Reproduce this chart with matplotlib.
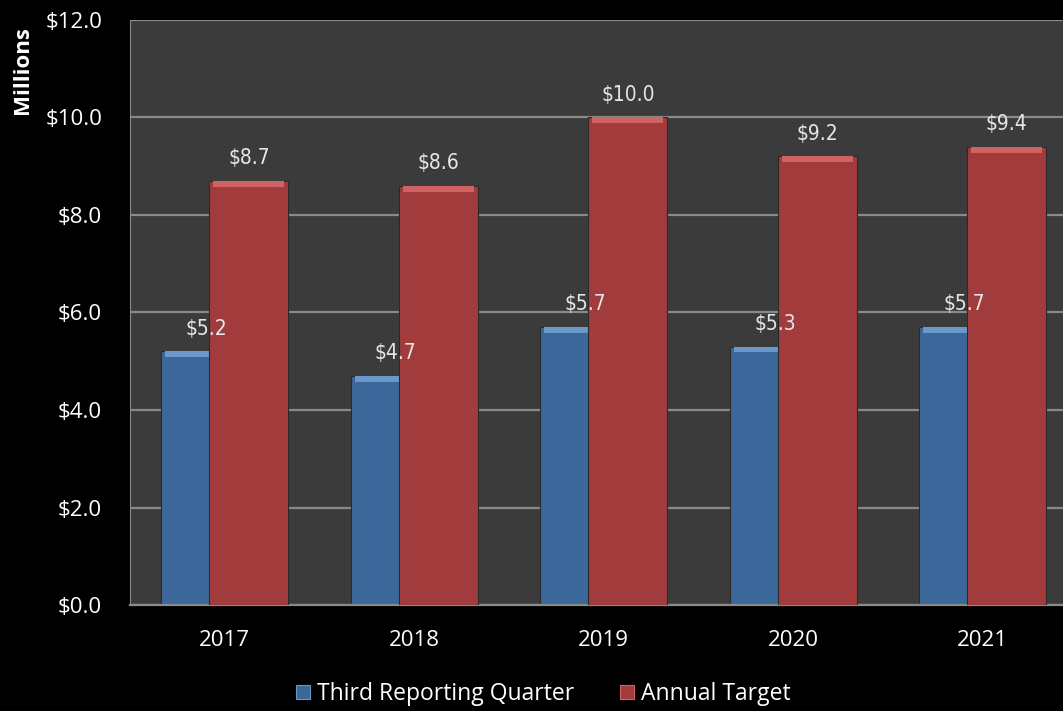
import matplotlib.pyplot as plt
import matplotlib.patches as mpatches
import numpy as np

years = ['2017', '2018', '2019', '2020', '2021']
third_quarter = [5.2, 4.7, 5.7, 5.3, 5.7]
annual_target = [8.7, 8.6, 10.0, 9.2, 9.4]
series_names = ['Third Reporting Quarter', 'Annual Target']

blue = '#3c679b'
blue_top = '#6a98cc'
red = '#a23b3b'
red_top = '#cf6262'

fig = plt.figure(figsize=(10.63, 7.11), dpi=100, facecolor='black')
ax = fig.add_axes([130 / 1063, 1 - 605 / 711, 947.5 / 1063, 585 / 711])
ax.set_facecolor('#3b3b3b')

x = np.arange(len(years))
width = 0.417
shift = 0.127

def bevel_bars(xs, vals, color, top_color, z):
    ax.bar(xs, vals, width, color=color, edgecolor='#2a2a2a', linewidth=0.8, zorder=z)
    # lighter strip along the top of each bar
    ax.bar(xs, [0.12] * len(vals), width * 0.9, bottom=np.array(vals) - 0.12,
           color=top_color, linewidth=0, zorder=z + 0.1)

bevel_bars(x - shift, third_quarter, blue, blue_top, 2)
bevel_bars(x + shift, annual_target, red, red_top, 3)

label_font = dict(family='DejaVu Sans', stretch='condensed', fontsize=15,
                  color='#e6e6e6', ha='center', va='bottom', zorder=5)
for xi, v in zip(x - shift, third_quarter):
    ax.text(xi + 0.03, v + 0.26, f'${v:.1f}', **label_font)
for xi, v in zip(x + shift, annual_target):
    ax.text(xi, v + 0.26, f'${v:.1f}', **label_font)

ax.set_xlim(-0.5, 4.5)
ax.set_ylim(0, 12)
ax.set_yticks(np.arange(0, 12.1, 2))
ax.set_yticklabels([f'${t:.1f}' for t in np.arange(0, 12.1, 2)])
ax.set_xticks(x)
ax.set_xticklabels(years)
ax.yaxis.grid(True, color='#8a8a8a', linewidth=1.6, zorder=0)
ax.set_axisbelow(True)

for side in ['top', 'right']:
    ax.spines[side].set_visible(False)
ax.spines['left'].set_color('#8a8a8a')
ax.spines['bottom'].set_color('#8a8a8a')
ax.spines['bottom'].set_linewidth(1.6)
ax.tick_params(axis='both', length=0, colors='white', labelsize=16,
               labelfontfamily='Open Sans')
ax.tick_params(axis='y', pad=20)
ax.tick_params(axis='x', pad=18)

fig.text(22 / 1063, 1 - 70 / 711, 'Millions', rotation=90, color='white',
         fontsize=16, fontweight='bold', family='Open Sans', ha='center', va='center')

handles = [mpatches.Patch(facecolor=blue, edgecolor=blue_top, linewidth=0.8),
           mpatches.Patch(facecolor=red, edgecolor=red_top, linewidth=0.8)]
fig.legend(handles, series_names, loc='center', bbox_to_anchor=(0.511, 0.024),
           ncol=2, frameon=False, handlelength=0.6, handleheight=0.6,
           handletextpad=0.3, columnspacing=2.0,
           prop={'family': 'Open Sans', 'size': 16.5}, labelcolor='white')

fig.savefig('out.png', dpi=100, facecolor='black')
